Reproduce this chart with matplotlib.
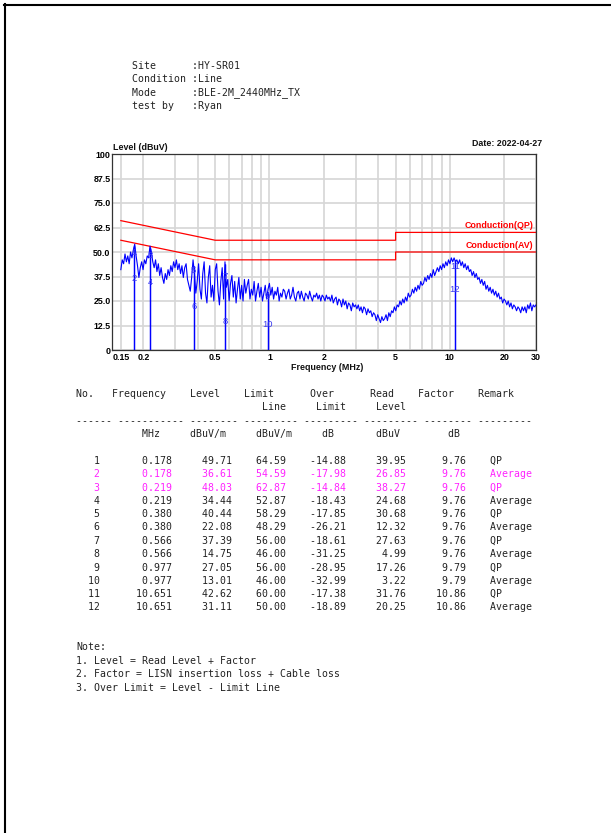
import numpy as np
import matplotlib
matplotlib.use("Agg")
import matplotlib.pyplot as plt
from matplotlib.lines import Line2D
from matplotlib.ticker import NullLocator

# ---------------- data ----------------
header_lines = ["Site      :HY-SR01", "Condition :Line",
                "Mode      :BLE-2M_2440MHz_TX", "test by   :Ryan"]
date_text = "Date: 2022-04-27"

# measured trace (dBuV), sweep 0.15 - 30 MHz (log spaced)
trace_db = [
    41, 46, 44, 49, 45, 48, 44, 50, 47, 51,
    54, 48, 43, 37, 42, 45, 41, 46, 44, 48,
    47, 53, 50, 45, 42, 46, 40, 44, 38, 42,
    37, 34, 39, 36, 41, 38, 43, 40, 45, 42,
    46, 41, 44, 39, 43, 37, 42, 44, 36, 33,
    30, 37, 46, 39, 29, 35, 44, 31, 26, 39,
    45, 29, 24, 37, 43, 27, 33, 25, 41, 44,
    30, 23, 35, 42, 26, 45, 32, 36, 25, 34,
    38, 27, 35, 24, 31, 37, 26, 33, 25, 36,
    29, 33, 36, 26, 31, 28, 35, 25, 30, 34,
    27, 32, 25, 29, 33, 26, 31, 34, 28, 32,
    26, 30, 28, 32, 25, 29, 27, 31, 30, 26,
    29, 31, 26, 28, 32, 27, 25, 29, 30, 26,
    30, 27, 25, 29, 28, 26, 30, 27, 25, 28,
    27, 29, 26, 28, 25, 28, 27, 25, 28, 26,
    27, 25, 28, 24, 26, 27, 23, 26, 25, 22,
    26, 23, 25, 21, 24, 23, 20, 24, 22, 23,
    21, 23, 20, 22, 19, 22, 21, 18, 21, 19,
    20, 17, 19, 18, 15, 18, 16, 14, 17, 15,
    16, 18, 15, 19, 17, 20, 19, 22, 20, 23,
    22, 25, 23, 26, 24, 27, 25, 29, 27, 28,
    31, 29, 32, 30, 33, 31, 35, 33, 34, 37,
    35, 38, 36, 39, 37, 41, 38, 40, 42, 40,
    43, 41, 44, 42, 45, 43, 46, 44, 47, 45,
    47, 45, 46, 44, 46, 43, 45, 42, 44, 41,
    43, 40, 41, 38, 40, 37, 39, 36, 37, 34,
    36, 33, 35, 31, 33, 30, 32, 29, 31, 28,
    30, 27, 29, 26, 27, 24, 26, 25, 23, 25,
    22, 24, 21, 23, 22, 20, 22, 21, 19, 22,
    20, 22, 19, 23, 21, 24, 20, 23, 22, 23,
]
sweep_start, sweep_stop = 0.15, 30.0

# limit lines
qp_f = [0.15, 0.5, 5, 5, 30]
qp_v = [66, 56, 56, 60, 60]
av_f = [0.15, 0.5, 5, 5, 30]
av_v = [56, 46, 46, 50, 50]

# table / markers
mk_no = [1, 2, 3, 4, 5, 6, 7, 8, 9, 10, 11, 12]
mk_freq = [0.178, 0.178, 0.219, 0.219, 0.380, 0.380, 0.566, 0.566, 0.977, 0.977, 10.651, 10.651]
mk_level = [49.71, 36.61, 48.03, 34.44, 40.44, 22.08, 37.39, 14.75, 27.05, 13.01, 42.62, 31.11]
mk_limit = [64.59, 54.59, 62.87, 52.87, 58.29, 48.29, 56.00, 46.00, 56.00, 46.00, 60.00, 50.00]
mk_over = [-14.88, -17.98, -14.84, -18.43, -17.85, -26.21, -18.61, -31.25, -28.95, -32.99, -17.38, -18.89]
mk_read = [39.95, 26.85, 38.27, 24.68, 30.68, 12.32, 27.63, 4.99, 17.26, 3.22, 31.76, 20.25]
mk_factor = [9.76, 9.76, 9.76, 9.76, 9.76, 9.76, 9.76, 9.76, 9.79, 9.79, 10.86, 10.86]
mk_remark = ["QP", "Average", "QP", "Average", "QP", "Average", "QP", "Average",
             "QP", "Average", "QP", "Average"]
highlight_rows = [2, 3]

x_grid = [0.15, 0.2, 0.3, 0.4, 0.5, 0.6, 0.7, 0.8, 0.9, 1, 2, 3, 4, 5, 6, 7, 8, 9, 10, 20, 30]
x_labels = {0.15: "0.15", 0.2: "0.2", 0.5: "0.5", 1: "1", 2: "2", 5: "5", 10: "10", 20: "20", 30: "30"}
y_ticks = [0, 12.5, 25, 37.5, 50, 62.5, 75, 87.5, 100]
y_labels = ["0", "12.5", "25.0", "37.5", "50.0", "62.5", "75.0", "87.5", "100"]

notes = ["Note:", "1. Level = Read Level + Factor",
         "2. Factor = LISN insertion loss + Cable loss",
         "3. Over Limit = Level - Limit Line"]

# ---------------- figure ----------------
W, H = 611, 833
fig = plt.figure(figsize=(W / 100, H / 100), dpi=100)
fig.patch.set_facecolor("white")

def fx(px):
    return px / W

def fy(py):
    return 1 - py / H

# page border (top + left)
fig.add_artist(Line2D([fx(4), fx(611)], [fy(4.8), fy(4.8)], color="black", lw=1.5))
fig.add_artist(Line2D([fx(5), fx(5)], [fy(4.2), fy(833)], color="black", lw=1.5))

MONO = "DejaVu Sans Mono"
SANS = "Liberation Sans"
MS = 7.1
txt_col = "#222222"

for k, line in enumerate(header_lines):
    fig.text(fx(132), fy(66 + k * 13.4), line, family=MONO, size=MS,
             color=txt_col, ha="left", va="center")

# ---------------- chart ----------------
ax = fig.add_axes([fx(112), fy(350), (536 - 112) / W, (350 - 154) / H])
ax.set_xscale("log")
ax.set_xlim(0.134, 30)
ax.set_ylim(0, 100)

ax.set_xticks(x_grid)
ax.set_xticklabels([x_labels.get(v, "") for v in x_grid])
ax.xaxis.set_minor_locator(NullLocator())
ax.set_yticks(y_ticks)
ax.set_yticklabels(y_labels)
ax.tick_params(length=0, labelsize=6.4)
ax.tick_params(axis="x", pad=2.5)
ax.tick_params(axis="y", pad=1.0)
for lab in ax.get_xticklabels() + ax.get_yticklabels():
    lab.set_fontweight("bold")
    lab.set_family(SANS)
ax.grid(True, color="#d6d6d6", lw=1.2)
ax.set_axisbelow(True)
for sp in ax.spines.values():
    sp.set_color("#333333")
    sp.set_linewidth(0.9)

ax.plot(qp_f, qp_v, color="#ff0000", lw=0.9, zorder=2)
ax.plot(av_f, av_v, color="#ff0000", lw=0.9, zorder=2)

freqs = np.geomspace(sweep_start, sweep_stop, len(trace_db))
trace = np.array(trace_db, dtype=float)
ax.plot(freqs, trace, color="#0000ff", lw=0.8, zorder=4)

mk_f = np.array(mk_freq)
tops = np.maximum(np.interp(np.log10(mk_f), np.log10(freqs), trace), np.array(mk_level))
ax.vlines(mk_f, 0, tops, color="#0000ff", lw=0.9, zorder=3)
for no, f, lv in zip(mk_no, mk_freq, mk_level):
    ax.text(f, lv, str(no), ha="center", va="center", color="#3c3cf0",
            fontsize=6.8, family=SANS, zorder=5)

ax.annotate("Conduction(QP)", xy=(1, qp_v[-1]), xycoords=("axes fraction", "data"),
            xytext=(-2, 1.5), textcoords="offset points", ha="right", va="bottom",
            color="#ff0000", fontsize=6.4, fontweight="bold", family=SANS)
ax.annotate("Conduction(AV)", xy=(1, av_v[-1]), xycoords=("axes fraction", "data"),
            xytext=(-2, 1.5), textcoords="offset points", ha="right", va="bottom",
            color="#ff0000", fontsize=6.4, fontweight="bold", family=SANS)

fig.text(fx(113), fy(147.5), "Level (dBuV)", family=SANS, weight="bold", size=6.4,
         ha="left", va="center", color="#111111")
fig.text(fx(542), fy(143.5), date_text, family=SANS, weight="bold", size=6.4,
         ha="right", va="center", color="#111111")
fig.text(fx(327), fy(367.5), "Frequency (MHz)", family=SANS, weight="bold", size=6.4,
         ha="center", va="center", color="#111111")

# ---------------- table ----------------
def at(*pairs):
    s = [" "] * 80
    for col, t in pairs:
        s[col:col + len(t)] = list(t)
    return "".join(s).rstrip()

TX = fx(76)
tbl_lines = [
    (394.0, at((0, "No."), (6, "Frequency"), (19, "Level"), (28, "Limit"), (39, "Over"),
               (49, "Read"), (57, "Factor"), (67, "Remark"))),
    (407.3, at((31, "Line"), (40, "Limit"), (50, "Level"))),
    (421.5, "------ ----------- -------- --------- --------- --------- -------- ---------"),
    (434.3, at((11, "MHz"), (19, "dBuV/m"), (30, "dBuV/m"), (41, "dB"), (50, "dBuV"), (62, "dB"))),
]
for py, s in tbl_lines:
    fig.text(TX, fy(py), s, family=MONO, size=MS, color=txt_col, ha="left", va="center")

for k in range(len(mk_no)):
    s = (f"{mk_no[k]:>4}{mk_freq[k]:>12.3f}{mk_level[k]:>10.2f}{mk_limit[k]:>9.2f}"
         f"{mk_over[k]:>10.2f}{mk_read[k]:>10.2f}{mk_factor[k]:>10.2f}    {mk_remark[k]}")
    col = "#ff22ff" if mk_no[k] in highlight_rows else txt_col
    fig.text(TX, fy(460.7 + k * 13.33), s, family=MONO, size=MS, color=col,
             ha="left", va="center")

for k, s in enumerate(notes):
    fig.text(TX, fy(647.3 + k * 13.45), s, family=MONO, size=MS, color=txt_col,
             ha="left", va="center")

fig.savefig("out.png", dpi=100)
